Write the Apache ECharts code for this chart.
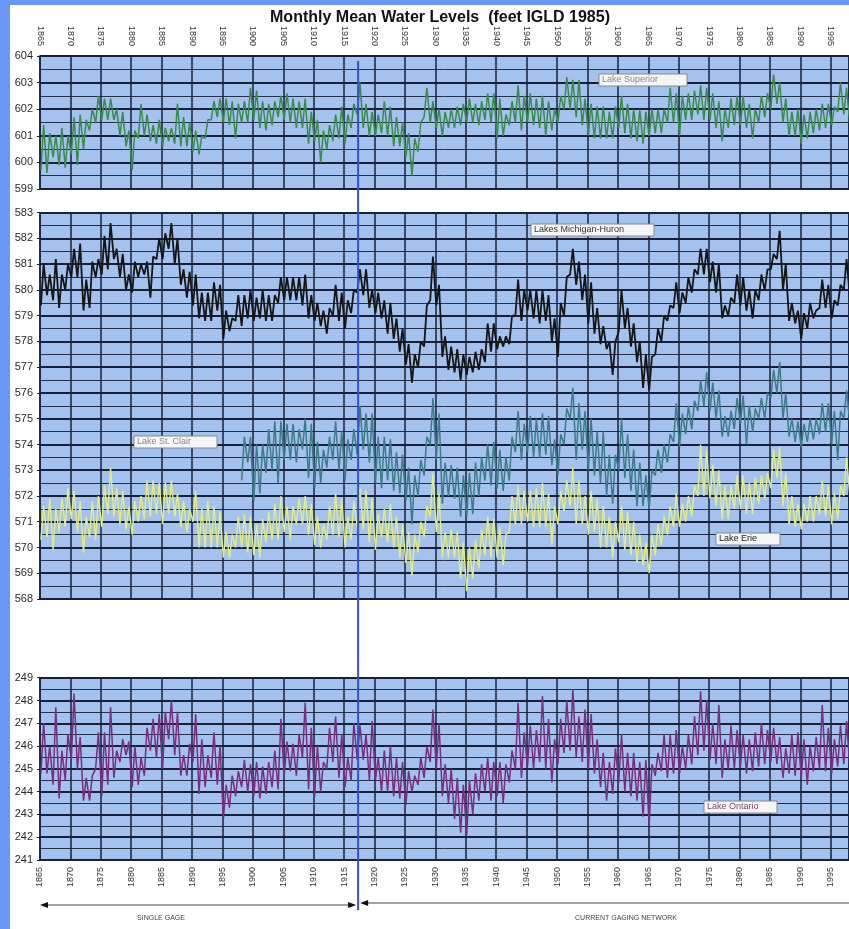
<!DOCTYPE html>
<html><head><meta charset="utf-8">
<script src="https://cdn.jsdelivr.net/npm/echarts@6.0.0/dist/echarts.min.js"></script>
<style>html,body{margin:0;padding:0;background:#fff}#c{width:849px;height:929px}</style>
</head><body><div id="c"></div><script>
// ---- data (feet IGLD 1985), two readings per year: seasonal low and seasonal high ----
const startYear = 1865;
const stClairStart = 1898;
const gageChangeYear = 1917.3;

const superiorHigh = [
601.4,601.1,601.0,601.3,601.0,601.7,601.8,601.6,602.0,602.5,
602.4,602.4,602.0,601.9,601.2,601.2,602.2,601.8,601.4,601.6,
601.3,601.3,602.2,601.7,601.5,601.2,601.0,601.6,602.3,602.4,
602.4,602.3,602.2,602.3,602.8,602.7,602.3,602.2,602.3,602.5,
602.6,602.4,602.3,602.4,601.9,601.6,601.2,601.4,601.8,602.1,
601.8,602.2,603.0,602.2,601.9,601.8,602.3,602.1,601.7,601.5,
601.1,600.9,601.5,602.8,602.3,602.0,601.9,602.0,602.1,602.2,
602.4,602.2,602.3,602.6,602.6,602.4,601.8,602.3,602.9,602.5,
602.6,602.4,602.5,602.3,602.0,602.5,603.2,603.1,603.1,602.4,
602.2,602.1,602.1,601.9,602.1,602.5,602.2,602.0,602.0,601.9,
602.0,602.0,602.0,602.8,602.6,602.5,602.6,602.7,602.9,602.8,
602.6,602.3,602.0,602.4,602.5,602.5,602.2,602.0,602.5,602.6,
603.3,603.0,602.4,601.9,602.0,601.8,601.9,602.0,602.2,602.2,
602.1,603.0,602.8,602.3];
const superiorLow = [
599.7,599.6,600.2,599.9,599.8,600.3,599.9,600.5,601.2,601.5,
601.6,601.6,601.6,601.0,600.6,599.7,600.9,601.0,600.8,600.7,
600.6,600.8,600.7,600.6,600.6,600.4,600.3,600.9,601.6,601.7,
601.5,601.4,600.9,601.5,601.5,601.6,601.3,601.2,601.4,601.7,
601.6,601.5,601.3,601.3,600.7,600.8,600.0,600.5,600.8,600.9,
600.7,601.3,601.8,601.3,601.0,601.0,601.1,601.0,600.6,600.6,
600.2,599.5,600.4,601.7,601.5,601.3,601.0,601.3,601.3,601.4,
601.5,601.5,601.4,601.6,601.5,600.9,601.0,601.4,601.5,601.2,
601.5,601.4,601.3,601.0,601.2,601.5,602.0,602.0,601.7,601.4,
601.0,600.9,600.9,600.9,600.9,601.3,601.1,600.9,600.8,600.7,
601.0,601.1,601.1,601.5,601.5,601.0,601.6,601.6,601.8,601.6,
601.6,601.3,600.8,601.3,601.4,601.4,601.3,600.9,601.5,601.7,
602.0,602.2,601.5,601.0,601.0,600.7,600.9,601.1,601.2,601.3,
601.4,601.9,601.8,601.4];

const michHuronHigh = [
581.0,580.6,581.2,580.6,581.0,581.6,581.8,580.4,581.1,581.2,
582.1,582.6,581.6,581.4,580.6,581.1,581.0,581.1,581.3,582.0,
582.2,582.6,582.0,580.8,580.7,580.6,579.9,579.9,580.3,580.2,
579.2,578.9,579.8,579.8,580.0,579.7,580.0,579.8,579.8,580.5,
580.5,580.5,580.5,580.6,579.8,579.5,579.2,579.3,580.2,579.9,
579.6,580.0,580.8,580.8,580.0,579.9,579.6,579.5,578.9,578.5,
577.9,577.5,578.0,579.4,581.3,580.2,578.2,577.8,577.7,577.5,
577.4,577.6,577.7,578.7,578.7,578.2,578.2,579.0,580.4,580.0,
580.0,580.0,580.0,579.8,578.9,579.5,580.5,581.6,581.1,580.6,
580.3,579.3,578.6,578.0,578.0,580.0,579.3,578.7,578.0,577.5,
577.4,578.5,579.0,579.4,580.3,579.9,580.5,580.8,581.6,581.6,
581.1,581.0,579.4,579.7,580.6,580.5,580.0,580.0,580.6,580.8,
581.4,582.3,581.0,579.5,579.2,579.1,579.5,579.2,580.4,580.2,
579.6,580.2,581.2,580.5];
const michHuronLow = [
579.4,579.8,579.6,579.3,580.0,580.5,580.5,579.2,579.3,580.5,
580.6,580.8,581.2,580.5,580.0,579.9,580.5,580.6,579.7,581.2,
581.2,581.6,581.0,580.2,579.7,579.4,578.9,578.8,578.8,579.2,
578.1,578.4,578.8,578.6,578.9,578.8,578.9,578.8,578.8,579.5,
579.6,579.6,579.6,579.4,578.9,578.8,578.6,578.3,579.0,578.8,
578.5,579.1,579.9,579.8,579.3,579.1,578.9,578.3,578.1,577.6,
577.1,576.4,577.0,577.8,579.6,579.4,577.4,576.9,576.8,576.5,
576.7,576.8,576.9,577.2,577.6,577.7,577.8,577.9,579.0,578.8,
579.2,578.9,578.7,578.8,578.0,577.4,579.0,580.6,580.2,579.6,
578.7,578.3,577.9,577.7,576.7,578.4,578.5,577.8,577.2,576.2,
576.1,577.5,578.0,578.8,579.3,579.1,579.5,579.9,580.6,580.6,
580.3,579.9,578.9,579.0,579.5,579.4,579.2,578.9,579.6,580.0,
580.8,581.2,580.0,578.8,578.7,578.1,578.5,578.9,579.3,579.3,
578.9,579.4,580.0,579.7];

const stClairHigh = [
574.3,574.3,574.0,574.0,574.6,574.9,574.9,574.8,574.8,574.6,
575.0,574.8,574.1,573.8,574.3,574.9,574.5,574.2,574.6,575.5,
575.2,575.2,574.3,574.3,574.2,573.7,573.6,573.1,572.8,573.4,
574.3,575.8,575.2,573.3,573.2,573.1,572.8,572.9,573.3,573.5,
574.0,574.1,573.8,573.5,574.3,575.3,574.8,575.1,575.0,575.2,
575.1,574.2,574.4,575.4,576.2,575.6,575.3,575.0,574.5,574.5,
573.6,573.6,575.0,574.4,573.8,573.3,572.8,573.0,573.8,574.0,
574.4,575.6,575.2,575.5,575.7,576.5,576.8,576.4,576.1,575.1,
575.3,575.8,575.9,575.5,575.4,575.8,576.0,576.9,577.2,576.0,
575.0,574.9,574.8,575.0,575.0,575.6,575.6,575.3,575.3,576.1,
575.7];
const stClairLow = [
572.6,573.3,571.8,572.1,572.9,573.0,572.5,573.4,573.4,573.3,
573.8,572.7,572.3,572.5,573.1,573.4,573.0,572.6,573.4,573.6,
573.8,573.3,572.5,572.3,572.6,572.2,572.1,571.8,570.9,572.0,
572.8,574.0,573.4,571.7,572.0,571.9,571.2,571.2,571.3,572.0,
572.6,572.4,572.3,572.2,572.6,573.7,573.4,573.7,573.5,573.5,
573.6,573.2,572.8,574.0,575.0,573.4,573.8,573.0,572.8,572.5,
572.0,571.7,573.0,572.7,572.2,571.6,571.6,571.5,572.8,572.9,
573.3,574.1,573.9,574.4,574.6,575.3,575.5,575.3,575.0,574.3,
574.3,574.6,574.8,574.0,574.5,575.0,575.0,575.8,576.0,575.0,
574.3,574.1,573.9,574.1,574.2,574.4,574.5,574.0,573.4,575.0,
574.8];

const erieHigh = [
571.6,571.9,571.5,571.9,572.3,572.2,571.8,571.2,571.8,572.0,
572.4,573.1,572.3,572.2,571.6,571.8,572.0,572.6,572.6,572.5,
572.5,572.6,572.1,571.8,571.5,572.2,571.5,571.8,571.6,571.4,
570.6,570.5,571.2,571.3,571.2,570.9,571.1,571.4,571.7,572.0,
571.6,571.6,571.9,572.0,571.7,571.2,570.9,571.6,572.1,571.9,
571.2,571.8,572.3,572.2,571.9,571.3,571.5,571.7,571.2,570.9,
570.6,570.5,571.0,571.6,572.9,572.1,570.6,570.7,570.6,570.2,
570.0,570.3,570.7,571.2,571.1,570.8,570.5,572.0,572.4,572.2,
572.2,572.3,572.5,572.1,571.6,572.2,572.6,573.1,572.6,572.0,
572.2,571.9,571.6,571.2,571.0,571.6,571.4,571.0,570.5,570.2,
570.5,570.9,571.2,571.6,572.1,571.7,572.0,572.4,574.0,573.8,
573.2,573.0,572.4,572.4,572.8,572.8,572.5,572.7,572.8,572.9,
573.8,573.9,572.9,572.0,571.7,571.7,572.0,572.0,572.6,572.4,
572.1,572.4,573.5,573.0];
const erieLow = [
570.3,570.4,569.9,570.6,570.8,571.1,570.6,569.8,570.4,570.3,
570.8,571.3,571.2,570.9,570.7,570.5,571.0,571.1,571.2,571.3,
570.9,571.3,571.2,570.8,570.6,571.0,570.0,570.0,570.0,570.0,
569.6,569.6,570.0,570.0,569.8,569.7,569.6,570.2,570.3,570.3,
570.6,570.3,570.9,570.9,570.5,570.1,570.0,570.3,570.5,570.4,
570.0,570.3,570.8,570.7,570.2,569.9,570.4,570.2,570.0,569.6,
569.4,568.9,569.8,570.4,571.2,570.6,569.6,569.6,569.6,568.8,
568.3,568.8,569.2,569.7,569.6,569.6,569.3,570.6,570.9,570.9,
571.0,570.8,570.8,570.8,570.1,570.9,571.4,571.6,570.9,570.9,
570.5,570.6,570.0,570.0,569.6,570.2,569.9,569.7,569.4,569.3,
569.0,569.7,570.1,570.5,570.8,570.8,571.0,571.2,572.0,572.0,
571.9,571.6,571.1,571.1,571.5,571.5,571.3,571.3,571.7,571.9,
572.3,572.7,571.6,570.9,570.8,570.7,571.0,571.0,571.3,571.2,
570.9,571.1,572.0,572.0];

const ontarioHigh = [
247.0,246.0,247.7,245.8,246.5,248.3,246.4,244.6,244.7,246.6,
246.6,247.7,245.8,246.3,246.2,246.0,245.5,246.8,247.2,247.4,
247.5,248.0,247.5,245.6,246.1,247.4,246.3,245.6,246.6,246.0,
244.3,244.7,244.9,245.4,245.2,245.3,245.1,245.3,245.8,247.2,
246.2,246.1,246.5,247.9,246.8,246.0,245.3,246.8,247.3,246.5,
245.5,247.0,246.9,246.5,247.1,245.5,245.8,246.0,245.5,245.3,
244.9,244.7,245.5,246.0,247.6,247.0,245.2,245.0,244.6,244.3,
244.5,244.8,245.2,245.5,245.3,245.3,245.2,245.8,247.9,246.6,
246.9,246.7,248.2,247.2,246.3,247.2,248.0,248.5,247.3,247.6,
247.4,246.3,245.7,245.3,245.9,246.5,245.7,245.7,245.3,245.4,
245.2,245.7,246.5,246.5,246.7,246.0,246.5,247.3,248.4,248.0,
247.0,247.8,246.3,246.9,246.7,246.5,246.3,246.6,247.0,246.7,
246.8,246.4,245.9,246.5,246.6,246.3,246.0,246.4,247.8,246.8,
246.3,246.9,247.1,246.4];
const ontarioLow = [
244.8,244.8,244.3,243.7,244.5,245.4,245.0,243.6,243.6,245.0,
243.8,244.3,244.6,245.3,245.6,244.2,244.3,244.7,245.8,245.5,
245.0,246.3,245.6,244.7,244.7,245.3,243.9,244.2,244.6,244.3,
242.8,243.3,243.8,244.2,244.0,243.8,243.7,243.9,244.2,244.1,
244.7,244.9,244.7,245.5,244.1,243.8,244.0,245.0,245.3,244.6,
244.2,244.5,245.4,245.4,244.5,244.5,244.0,244.0,243.8,243.7,
243.4,244.0,244.3,244.6,245.3,245.0,243.8,243.5,242.8,242.2,
242.1,243.0,243.6,244.0,243.6,243.8,243.5,244.4,245.0,244.6,
245.1,245.0,245.3,245.0,244.4,245.2,245.7,245.8,245.5,245.3,
245.0,244.8,244.2,243.6,243.9,244.4,244.0,243.8,243.6,242.9,
242.5,244.7,244.9,244.6,244.8,244.8,245.0,245.2,245.6,245.8,
245.4,245.2,244.6,245.0,245.0,245.1,244.8,244.9,245.1,245.2,
245.3,245.2,244.6,244.8,244.7,244.6,244.3,244.9,245.0,244.9,
244.8,245.1,245.2,245.0];

// ---- build series points (low early in the year, high mid-year) ----
function seasonal(first, highs, lows) {
  const pts = [];
  for (let i = 0; i < highs.length; i++) {
    pts.push([first + i + 0.15, lows[i]]);
    pts.push([first + i + 0.6, highs[i]]);
  }
  return pts;
}

const chart = echarts.init(document.getElementById('c'), null, {renderer: 'canvas'});

const PLOT_BG = '#a5c1ee';
const GRID_DARK = '#16203a';
const X_MIN = 1865, X_MAX = 1998;

function xAxisFor(gi, pos, showLabels) {
  return {
    type: 'value', gridIndex: gi, min: X_MIN, max: X_MAX, interval: 5, position: pos,
    axisLine: {show: false}, axisTick: {show: false},
    axisLabel: {show: showLabels, rotate: 90, fontSize: 9, color: '#333', margin: pos === 'top' ? 10 : 7,
      fontFamily: 'Liberation Sans, Arial, sans-serif', showMaxLabel: false,
      formatter: v => (v % 5 === 0 ? String(v) : '')},
    splitLine: {show: true, lineStyle: {color: GRID_DARK, width: 1.5}}
  };
}
function yAxisFor(gi, lo, hi) {
  return {
    type: 'value', gridIndex: gi, min: lo, max: hi, interval: 1,
    axisLine: {show: false},
    axisTick: {show: true, length: 3, lineStyle: {color: GRID_DARK}},
    axisLabel: {fontSize: 11, color: '#2a2a2a', margin: 7, fontFamily: 'Liberation Sans, Arial, sans-serif'},
    splitLine: {show: true, lineStyle: {color: GRID_DARK, width: 2}},
    minorTick: {show: false, splitNumber: 2},
    minorSplitLine: {show: true, lineStyle: {color: '#22304c', width: 1}}
  };
}
function lineSeries(name, xi, yi, data, color, w) {
  return {
    name, type: 'line', xAxisIndex: xi, yAxisIndex: yi, data,
    showSymbol: false, symbol: 'none', smooth: false, clip: true,
    lineStyle: {color, width: w}, emphasis: {disabled: true}, z: 3
  };
}

const gridBase = {left: 40, right: 0, show: true, backgroundColor: PLOT_BG, borderColor: GRID_DARK, borderWidth: 1.5};

const option = {
  animation: false,
  backgroundColor: '#ffffff',
  grid: [
    Object.assign({top: 56, height: 133}, gridBase),
    Object.assign({top: 212.7, height: 386.3}, gridBase),
    Object.assign({top: 677.7, height: 182.3}, gridBase)
  ],
  xAxis: [xAxisFor(0, 'top', true), xAxisFor(1, 'bottom', false), xAxisFor(2, 'bottom', true)],
  yAxis: [yAxisFor(0, 599, 604), yAxisFor(1, 568, 583), yAxisFor(2, 241, 249)],
  series: [
    lineSeries('Lake Superior', 0, 0, seasonal(startYear, superiorHigh, superiorLow), '#3a8a4e', 1.5),
    lineSeries('Lake Erie', 1, 1, seasonal(startYear, erieHigh, erieLow), '#e2ec84', 1.4),
    lineSeries('Lake St. Clair', 1, 1, seasonal(stClairStart, stClairHigh, stClairLow), '#3d7a8a', 1.5),
    lineSeries('Lakes Michigan-Huron', 1, 1, seasonal(startYear, michHuronHigh, michHuronLow), '#151515', 1.8),
    lineSeries('Lake Ontario', 2, 2, seasonal(startYear, ontarioHigh, ontarioLow), '#782e80', 1.5)
  ],
  graphic: [
    {type: 'rect', shape: {x: 0, y: 0, width: 10, height: 929}, style: {fill: '#6b98f6'}, z: 100},
    {type: 'rect', shape: {x: 0, y: 0, width: 849, height: 5}, style: {fill: '#6b98f6'}, z: 100},
    {type: 'text', x: 440, y: 18, z: 100, style: {text: 'Monthly Mean Water Levels  (feet IGLD 1985)',
      font: 'bold 16px "Liberation Sans", Arial, sans-serif', fill: '#111', textAlign: 'center', textVerticalAlign: 'middle'}},
    // lake labels
    {type: 'rect', z: 100, shape: {x: 599, y: 74, width: 88, height: 12}, style: {fill: '#f4f5f7', stroke: '#8a8a8a', lineWidth: 1}},
    {type: 'text', z: 101, x: 602, y: 80, style: {text: 'Lake Superior', font: '9px "Liberation Sans", Arial', fill: '#8a8a8a', textVerticalAlign: 'middle'}},
    {type: 'rect', z: 100, shape: {x: 531, y: 224, width: 123, height: 12}, style: {fill: '#f4f5f7', stroke: '#8a8a8a', lineWidth: 1}},
    {type: 'text', z: 101, x: 534, y: 230, style: {text: 'Lakes Michigan-Huron', font: '9px "Liberation Sans", Arial', fill: '#333', textVerticalAlign: 'middle'}},
    {type: 'rect', z: 100, shape: {x: 134, y: 436, width: 83, height: 12}, style: {fill: '#f4f5f7', stroke: '#8a8a8a', lineWidth: 1}},
    {type: 'text', z: 101, x: 137, y: 442, style: {text: 'Lake St. Clair', font: '9px "Liberation Sans", Arial', fill: '#8a8a8a', textVerticalAlign: 'middle'}},
    {type: 'rect', z: 100, shape: {x: 716, y: 533, width: 64, height: 12}, style: {fill: '#f4f5f7', stroke: '#8a8a8a', lineWidth: 1}},
    {type: 'text', z: 101, x: 719, y: 539, style: {text: 'Lake Erie', font: '9px "Liberation Sans", Arial', fill: '#222', textVerticalAlign: 'middle'}},
    {type: 'rect', z: 100, shape: {x: 704, y: 801, width: 73, height: 12}, style: {fill: '#f4f5f7', stroke: '#8a8a8a', lineWidth: 1}},
    {type: 'text', z: 101, x: 707, y: 807, style: {text: 'Lake Ontario', font: '9px "Liberation Sans", Arial', fill: '#7a4a72', textVerticalAlign: 'middle'}},
    // captions
    {type: 'text', z: 100, x: 161, y: 918, style: {text: 'SINGLE GAGE', font: '7px "Liberation Sans", Arial', fill: '#444', textAlign: 'center', textVerticalAlign: 'middle'}},
    {type: 'text', z: 100, x: 626, y: 918, style: {text: 'CURRENT GAGING NETWORK', font: '7px "Liberation Sans", Arial', fill: '#444', textAlign: 'center', textVerticalAlign: 'middle'}}
  ]
};
chart.setOption(option);

// gage change line and arrows positioned through the axis scale
const gx = chart.convertToPixel({xAxisIndex: 0}, gageChangeYear);
const x0 = chart.convertToPixel({xAxisIndex: 2}, X_MIN);
const ay = 905;
chart.setOption({graphic: option.graphic.concat([
  {type: 'line', z: 110, shape: {x1: gx, y1: 61, x2: gx, y2: 910}, style: {stroke: '#3452c4', lineWidth: 2}},
  {type: 'line', z: 105, shape: {x1: x0 + 4, y1: ay, x2: gx - 4, y2: ay}, style: {stroke: '#444', lineWidth: 1}},
  {type: 'polygon', z: 105, shape: {points: [[x0, ay], [x0 + 8, ay - 3], [x0 + 8, ay + 3]]}, style: {fill: '#111'}},
  {type: 'polygon', z: 105, shape: {points: [[gx - 2, ay], [gx - 10, ay - 3], [gx - 10, ay + 3]]}, style: {fill: '#111'}},
  {type: 'line', z: 105, shape: {x1: gx + 4, y1: ay - 2, x2: 849, y2: ay - 2}, style: {stroke: '#444', lineWidth: 1}},
  {type: 'polygon', z: 105, shape: {points: [[gx + 2, ay - 2], [gx + 10, ay - 5], [gx + 10, ay + 1]]}, style: {fill: '#111'}}
])});
</script></body></html>
